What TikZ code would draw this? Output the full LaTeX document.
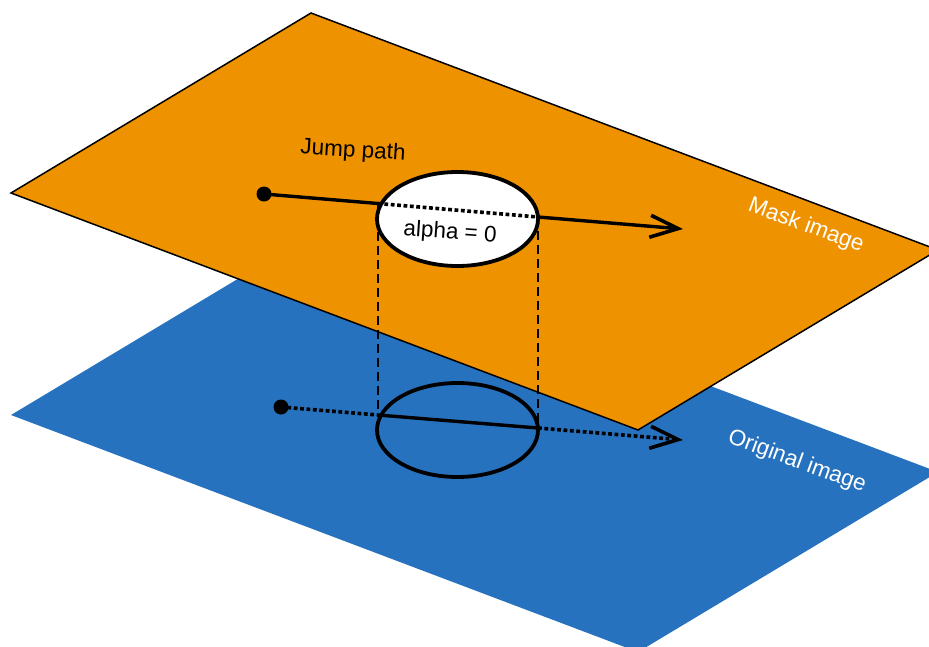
\documentclass[tikz,border=0pt]{standalone}
\usepackage{fontspec}
\setmainfont{Liberation Sans}
\usetikzlibrary{arrows.meta,shapes.geometric}

\definecolor{maskorange}{RGB}{238,146,0}
\definecolor{origblue}{RGB}{38,114,190}

\tikzset{
  plane/.style={line join=miter},
  ringnode/.style={ellipse, draw=black, line width=3.8pt, inner sep=0pt,
                   minimum width=161pt, minimum height=94pt},
  dotnode/.style={circle, fill=black, inner sep=0pt, minimum size=15pt},
  solidpath/.style={line width=3.4pt, line cap=butt},
  dotpath/.style={line width=3.6pt, line cap=butt, dash pattern=on 3.8pt off 2.6pt},
  droplink/.style={line width=2pt, dash pattern=on 9pt off 5pt},
  tiphead/.style={-{Straight Barb[length=28pt,width=22pt,line width=3.6pt]}},
  label/.style={font=\fontsize{22.5}{26}\selectfont, inner sep=0pt}
}

\begin{document}
\begin{tikzpicture}[x=1pt, y=-1pt]
  \clip (0,0) rectangle (929,646);

  % lower layer: original image
  \fill[origblue, plane] (311,235) -- (11,415) -- (638,652) -- (938,472) -- cycle;

  % jump path projected on the original image
  \node[dotnode] (s2) at (281,407) {};
  \coordinate (a2) at (378,415);
  \coordinate (b2) at (538,428);
  \coordinate (t2) at (683,440);
  \node[ringnode] (e2) at (457.5,430) {};
  \draw[dotpath] (s2.center) -- (a2);
  \draw[solidpath] (a2) -- (b2);
  \draw[dotpath, tiphead] (b2) -- (t2);

  % upper layer: mask image
  \filldraw[fill=maskorange, draw=black, line width=1.5pt, plane]
    (311,13) -- (11,193) -- (638,430) -- (938,250) -- cycle;

  % drop lines between the two layers
  \coordinate (a1) at (378,203.5);
  \coordinate (b1) at (538,217);
  \draw[droplink] (a1) -- (a2);
  \draw[droplink] (b1) -- (b2);

  % masked region and jump path on the mask
  \node[ringnode, fill=white] (e1) at (457.5,219) {};
  \node[dotnode] (s1) at (264,194) {};
  \coordinate (t1) at (683,229);
  \draw[solidpath] (s1.center) -- (a1);
  \draw[dotpath] (a1) -- (b1);
  \draw[solidpath, tiphead] (b1) -- (t1);

  % labels
  \node[label, rotate=-3.5] (jump) at (353,151) {Jump path};
  \node[label, rotate=-4] (alpha) at (450,233) {alpha = 0};
  \node[label, text=white, rotate=-20] (mask) at (806,226) {Mask image};
  \node[label, text=white, rotate=-20] (orig) at (797,462) {Original image};
\end{tikzpicture}
\end{document}
